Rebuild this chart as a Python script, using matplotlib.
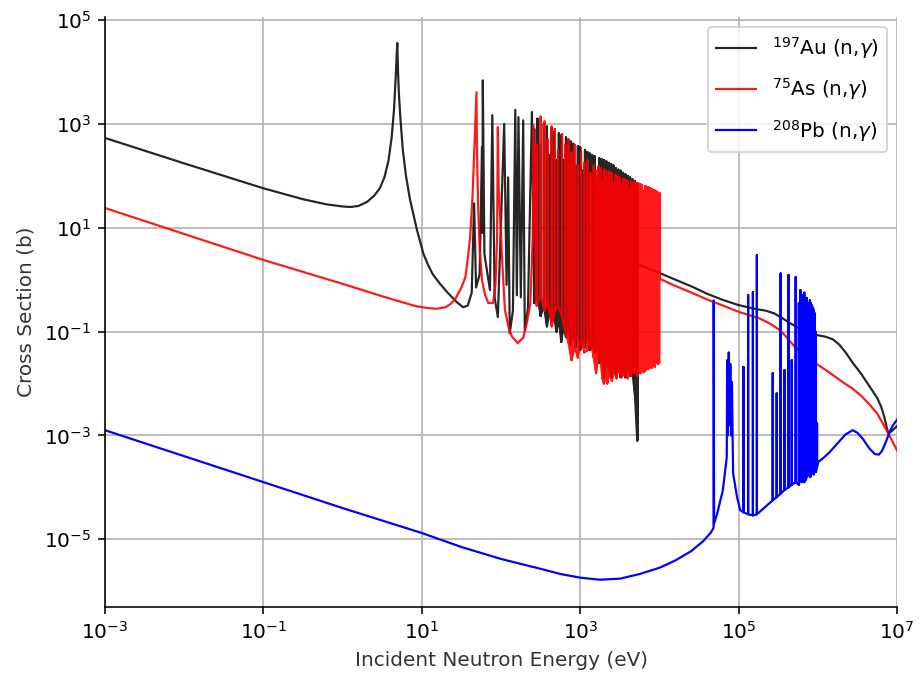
import numpy as np
import matplotlib
matplotlib.use("Agg")
import matplotlib.pyplot as plt
from matplotlib.ticker import NullLocator

# values, stored as log10(E / eV) and log10(sigma / b)

# 197Au: thermal part, 4.9 eV resonance and first resolved resonances
au_low_loge = [-3.0, -2.0, -1.0, -0.5, -0.2, 0.0, 0.1, 0.2, 0.31, 0.4, 0.47, 0.53, 0.58, 0.62, 0.65, 0.67,
               0.69, 0.70, 0.71, 0.73, 0.76, 0.80, 0.85, 0.94, 1.02, 1.08, 1.14, 1.23, 1.32, 1.44, 1.52, 1.58,
               1.63, 1.66, 1.685, 1.73, 1.76, 1.765, 1.77, 1.79, 1.86, 1.89, 1.92, 1.96, 2.04, 2.07,
               2.09, 2.11, 2.15, 2.18, 2.20, 2.22, 2.25, 2.28, 2.30, 2.34, 2.39]
au_low_logs = [2.73, 2.24, 1.76, 1.55, 1.45, 1.41, 1.40, 1.42, 1.50, 1.62, 1.76, 1.98, 2.30, 2.75, 3.30, 3.90,
               4.56, 4.00, 3.60, 3.10, 2.50, 2.00, 1.55, 0.95, 0.50, 0.28, 0.10, -0.08, -0.24, -0.43, -0.53, -0.50,
               -0.25, 1.47, -0.15, 0.10, 2.55, 0.90, 3.84, 0.50, -0.20, 3.17, -0.35, -0.72, 3.00, -0.10,
               1.97, -1.03, -0.60, 3.27, -0.30, 3.13, -0.34, 3.07, -0.97, -0.55, 3.23]
# 197Au: dense resolved resonances (energy, peak, floor)
au_res_loge = [2.42, 2.46, 2.50, 2.54, 2.58, 2.61, 2.64, 2.67, 2.70, 2.73, 2.76, 2.79, 2.82, 2.85, 2.88,
               2.91, 2.94, 2.97, 3.00, 3.03, 3.06, 3.09, 3.12, 3.15, 3.18, 3.21, 3.24, 3.27, 3.30, 3.33,
               3.36, 3.39, 3.42, 3.45, 3.48, 3.51, 3.54, 3.57, 3.60, 3.63, 3.66, 3.69, 3.72]
au_res_top = [2.90, 3.10, 2.60, 3.00, 2.95, 2.40, 2.92, 2.85, 2.30, 2.82, 2.78, 2.30, 2.74, 2.70, 2.66,
              2.62, 2.20, 2.57, 2.55, 2.10, 2.50, 2.46, 2.43, 2.40, 2.38, 2.00, 2.34, 2.32, 2.30, 2.28,
              2.25, 2.23, 2.20, 2.15, 2.12, 2.10, 2.06, 2.03, 2.00, 1.97, 1.93, 1.90, 1.86]
au_res_floor = [-0.45, -0.30, -0.70, -0.50, -0.90, -0.60, -0.80, -0.70, -1.00, -0.75, -1.20, -0.90, -1.10,
                -0.80, -1.25, -1.00, -1.30, -0.90, -1.35, -1.10, -1.30, -1.00, -1.35, -1.20, -1.40, -1.30,
                -1.60, -1.40, -1.88, -1.50, -1.70, -1.88, -1.60, -1.85, -1.50, -1.88, -1.70, -1.88, -1.60,
                -1.85, -1.80, -2.20, -3.10]
# 197Au: unresolved / fast part
au_fast_loge = [3.725, 3.8, 4.0, 4.2, 4.42, 4.6, 4.8, 5.0, 5.2, 5.35, 5.45, 5.55, 5.65, 5.78, 5.9, 6.0,
                6.1, 6.19, 6.27, 6.35, 6.44, 6.55, 6.65, 6.75, 6.8, 6.84, 6.87, 6.89, 6.93, 7.0]
au_fast_logs = [0.30, 0.25, 0.13, 0.0, -0.14, -0.27, -0.39, -0.49, -0.56, -0.60, -0.65, -0.74, -0.84,
                -0.95, -1.03, -1.07, -1.10, -1.15, -1.25, -1.40, -1.60, -1.82, -2.05, -2.28, -2.45,
                -2.65, -2.85, -2.96, -2.92, -2.82]

# 75As
as_low_loge = [-3.0, -2.0, -1.0, -0.5, 0.0, 0.5, 0.72, 0.9, 1.0, 1.1, 1.19, 1.3, 1.36, 1.42, 1.50, 1.55,
               1.58, 1.61, 1.64, 1.66, 1.69, 1.695, 1.71, 1.73, 1.76, 1.80, 1.84, 1.90, 1.93, 1.95, 1.96,
               1.97, 1.99, 2.02, 2.05, 2.10, 2.14, 2.21, 2.28, 2.33, 2.37, 2.40, 2.41]
as_low_logs = [1.38, 0.88, 0.38, 0.15, -0.08, -0.32, -0.42, -0.50, -0.53, -0.55, -0.56, -0.53, -0.47,
               -0.38, -0.15, 0.05, 0.40, 0.82, 1.60, 2.40, 3.61, 2.60, 1.47, 0.60, -0.01, -0.30, -0.45,
               -0.45, -0.10, 0.80, 2.94, 1.80, 1.15, 0.20, -0.59, -0.95, -1.10, -1.22, -1.12, -0.80,
               -0.45, 0.80, 2.97]
as_res_loge = [2.45, 2.50, 2.55, 2.59, 2.64, 2.68, 2.72, 2.77, 2.81, 2.85, 2.89, 2.93, 2.97, 3.01, 3.05,
               3.09, 3.13, 3.17, 3.20, 3.23, 3.26, 3.28, 3.30, 3.32, 3.34, 3.36, 3.38, 3.40, 3.42, 3.44,
               3.46, 3.48, 3.50, 3.52, 3.54, 3.56, 3.58, 3.60, 3.62, 3.64, 3.66, 3.68, 3.70, 3.72, 3.74,
               3.76, 3.78, 3.80, 3.82, 3.84, 3.86, 3.88, 3.90, 3.92, 3.94, 3.96, 3.98, 4.00]
as_res_top = [2.60, 3.14, 3.05, 2.70, 2.95, 2.90, 2.50, 2.80, 2.60, 2.70, 2.45, 2.60, 2.20, 2.45, 2.25,
              2.30, 2.05, 2.20, 2.10, 2.18, 2.15, 1.92, 2.12, 2.10, 1.96, 2.08, 2.06, 2.05, 1.86, 2.02,
              2.00, 1.98, 1.96, 1.82, 1.94, 1.93, 1.92, 1.90, 1.75, 1.89, 1.88, 1.87, 1.86, 1.86, 1.85,
              1.84, 1.82, 1.70, 1.80, 1.79, 1.78, 1.76, 1.75, 1.73, 1.72, 1.70, 1.68, 1.67]
as_res_floor = [-0.50, -0.30, -0.60, -0.40, -0.90, -0.60, -0.50, -0.70, -1.00, -1.20, -1.55, -1.30, -1.50,
                -1.10, -1.40, -1.36, -1.20, -1.50, -1.80, -1.40, -1.60, -1.90, -2.00, -1.70, -2.00, -1.85,
                -1.60, -1.95, -1.80, -1.70, -1.90, -1.50, -1.80, -1.88, -1.60, -1.85, -1.75, -1.90, -1.70,
                -1.85, -1.55, -1.80, -1.75, -1.85, -1.70, -1.80, -1.60, -1.78, -1.75, -1.65, -1.72, -1.55,
                -1.70, -1.62, -1.68, -1.50, -1.62, -1.60]
as_fast_loge = [4.0, 4.2, 4.42, 4.6, 4.8, 5.02, 5.15, 5.27, 5.4, 5.52, 5.6, 5.69, 5.8, 5.9, 5.99, 6.1,
                6.2, 6.32, 6.44, 6.55, 6.65, 6.75, 6.85, 6.93, 7.0]
as_fast_logs = [0.02, -0.12, -0.26, -0.38, -0.50, -0.63, -0.69, -0.75, -0.85, -0.97, -1.10, -1.26, -1.42,
                -1.54, -1.63, -1.74, -1.85, -1.98, -2.10, -2.24, -2.40, -2.58, -2.85, -3.08, -3.29]

# 208Pb
pb_low_loge = [-3.0, -2.0, -1.0, 0.0, 1.0, 1.5, 2.0, 2.5, 2.75, 3.0, 3.25, 3.5, 3.75, 4.0, 4.2, 4.4, 4.55,
               4.65, 4.683, 4.685, 4.69, 4.73, 4.80, 4.85, 4.855, 4.865, 4.875, 4.885, 4.895, 4.905,
               4.915, 4.93, 4.98, 5.02]
pb_low_logs = [-2.90, -3.40, -3.90, -4.40, -4.88, -5.15, -5.38, -5.57, -5.67, -5.74, -5.78, -5.76, -5.67,
               -5.55, -5.41, -5.23, -5.04, -4.87, -4.78, -0.40, -4.70, -4.50, -4.06, -3.42, -1.55, -3.00,
               -1.40, -2.80, -1.62, -3.00, -1.97, -3.73, -4.19, -4.44]
pb_res_loge = [5.06, 5.12, 5.18, 5.23, 5.43, 5.48, 5.53, 5.58, 5.63, 5.67, 5.72, 5.76,
               5.780, 5.787, 5.794, 5.801, 5.808, 5.815, 5.822, 5.829, 5.836, 5.843, 5.850, 5.857, 5.864,
               5.871, 5.878, 5.885, 5.892, 5.899, 5.906, 5.913, 5.920, 5.927, 5.934, 5.941, 5.948, 5.955,
               5.962, 5.969, 5.976, 5.990]
pb_res_top = [-1.68, -0.30, -0.24, 0.47, -1.80, -2.19, 0.12, -1.74, 0.09, -1.55, 0.05, -0.45,
              -0.20, -0.55, -0.40, -0.30, -0.50, -0.35, -0.45, -0.25, -0.55, -0.40, -0.50, -0.35, -0.55,
              -0.45, -0.50, -0.60, -0.48, -0.40, -0.55, -0.45, -0.65, -0.50, -0.70, -0.55, -0.60, -0.80,
              -0.65, -1.00, -1.20, -2.77]
pb_res_floor = [-4.48, -4.52, -4.54, -4.52, -4.25, -4.19, -4.12, -4.05, -4.00, -3.95, -3.90, -3.95,
                -3.85, -3.60, -3.80, -3.90, -3.70, -3.85, -3.55, -3.90, -3.75, -3.60, -3.85, -3.65, -3.80,
                -3.60, -3.75, -3.55, -3.70, -3.60, -3.80, -3.65, -3.75, -3.55, -3.70, -3.60, -3.75, -3.65,
                -3.70, -3.60, -3.70, -3.60]
pb_fast_loge = [6.0, 6.08, 6.15, 6.25, 6.35, 6.44, 6.5, 6.57, 6.65, 6.72, 6.77, 6.81, 6.86, 6.91, 6.95, 7.0]
pb_fast_logs = [-3.52, -3.42, -3.32, -3.15, -2.98, -2.90, -2.95, -3.07, -3.25, -3.36, -3.37, -3.30, -3.12,
                -2.92, -2.80, -2.70]


def build(low_e, low_s, res_e, res_top, res_floor, fast_e, fast_s):
    e, s = list(low_e), list(low_s)
    for x, t, f in zip(res_e, res_top, res_floor):
        e += [x, x, x]
        s += [f, t, f]
    e += fast_e
    s += fast_s
    return 10.0 ** np.array(e), 10.0 ** np.array(s)


au_e, au_s = build(au_low_loge, au_low_logs, au_res_loge, au_res_top, au_res_floor, au_fast_loge, au_fast_logs)
as_e, as_s = build(as_low_loge, as_low_logs, as_res_loge, as_res_top, as_res_floor, as_fast_loge, as_fast_logs)
pb_e, pb_s = build(pb_low_loge, pb_low_logs, pb_res_loge, pb_res_top, pb_res_floor, pb_fast_loge, pb_fast_logs)

fig, ax = plt.subplots(figsize=(921 / 144, 680 / 144), dpi=144)
fig.subplots_adjust(left=0.114, right=0.974, bottom=0.107, top=0.975)

ax.plot(au_e, au_s, color="k", lw=1.1, alpha=0.85, label=r"$^{197}$Au (n,$\gamma$)")
ax.plot(as_e, as_s, color="r", lw=1.1, alpha=0.9, label=r"$^{75}$As (n,$\gamma$)")
ax.plot(pb_e, pb_s, color="b", lw=1.1, label=r"$^{208}$Pb (n,$\gamma$)")

ax.set_xscale("log")
ax.set_yscale("log")
ax.set_xlim(1e-3, 1e7)
ax.set_ylim(10 ** -6.31, 10 ** 5.06)
ax.set_xticks([1e-3, 1e-1, 1e1, 1e3, 1e5, 1e7])
ax.set_yticks([1e-5, 1e-3, 1e-1, 1e1, 1e3, 1e5])
ax.xaxis.set_minor_locator(NullLocator())
ax.yaxis.set_minor_locator(NullLocator())
ax.grid(True)
ax.set_axisbelow(True)
ax.spines["top"].set_visible(False)
ax.spines["right"].set_visible(False)

ax.set_xlabel("Incident Neutron Energy (eV)", color="#333333")
ax.set_ylabel("Cross Section (b)", color="#333333")
ax.legend(loc="upper right", labelspacing=0.77)

fig.savefig("out.png", dpi=144)
